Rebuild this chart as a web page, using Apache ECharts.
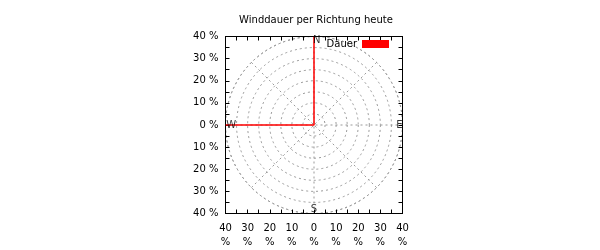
<!DOCTYPE html>
<html><head><meta charset="utf-8">
<script src="https://cdn.jsdelivr.net/npm/echarts@6/dist/echarts.min.js"></script>
<style>html,body{margin:0;padding:0;background:#fff}#c{width:600px;height:250px}</style>
</head><body><div id="c"></div>
<script>
var title = 'Winddauer per Richtung heute';
var seriesName = 'Dauer';
var directions = ['N','NO','O','SO','S','SW','W','NW'];
var angles = [0,45,90,135,180,225,270,315];
var dauer = [40,0,0,0,0,0,40,0];
var ticks = [-40,-30,-20,-10,0,10,20,30,40];
var dirLabels = [['N',1.2,38.3],['E',38.6,0],['S',0,-38.3],['W',-37.4,0]];

var polyData = [];
for (var i=0;i<dauer.length;i++) polyData.push([dauer[i], angles[i]]);
polyData.push([dauer[0], 360]);

var font = 'DejaVu Sans';
var chart = echarts.init(document.getElementById('c'), null, {renderer:'canvas'});
var L=225.5, T=36.5, W=177, H=177;
var cx=L+W/2, cy=T+H/2;
var dashed = {color:'#999999', width:1, type:[2,3]};
function mkX(pos, labels){
  return {type:'value',min:-40,max:40,interval:10,position:pos,
    axisLine:{onZero:false,lineStyle:{color:'#000'}},
    axisTick:{inside:true,length:4,lineStyle:{color:'#000'}},
    minorTick:{show:true,splitNumber:2,length:4,lineStyle:{color:'#000'}},
    splitLine:{show:false},
    axisLabel:labels};
}
chart.setOption({
  animation:false,
  title:{text:title,left:311,textAlign:'center',top:10,textStyle:{fontFamily:font,fontSize:10,fontWeight:'normal',color:'#000'}},
  legend:{data:[{name:seriesName,icon:'rect'}],right:211,top:39,padding:0,itemWidth:27,itemHeight:8,align:'right',itemGap:4,
    textStyle:{fontFamily:font,fontSize:10,color:'#000'}},
  grid:{left:L,top:T,width:W,height:H},
  polar:{center:[cx,cy],radius:W/2},
  radiusAxis:{type:'value',min:0,max:40,interval:5,axisLine:{show:false},axisTick:{show:false},axisLabel:{show:false},
    splitLine:{show:true,lineStyle:dashed}},
  angleAxis:{type:'value',min:0,max:360,interval:45,startAngle:90,clockwise:true,axisLine:{show:true,lineStyle:dashed},
    axisTick:{show:false},axisLabel:{show:false},splitLine:{show:true,lineStyle:dashed}},
  xAxis:[
    mkX('bottom',{fontFamily:font,fontSize:10,color:'#000',margin:8,lineHeight:14,formatter:function(v){return Math.abs(v)+'\n%';}}),
    mkX('top',{show:false})
  ],
  yAxis:[
    mkX('left',{fontFamily:font,fontSize:10,color:'#000',margin:7,formatter:function(v){return Math.abs(v)+' %';}}),
    mkX('right',{show:false})
  ],
  series:[
    {name:seriesName,type:'line',coordinateSystem:'polar',data:polyData,symbol:'none',
     lineStyle:{color:'#ff0000',width:1.5},itemStyle:{color:'#ff0000'},z:5},
    {type:'scatter',xAxisIndex:0,yAxisIndex:0,symbolSize:0,silent:true,z:6,
     data:dirLabels.map(function(d){return {value:[d[1],d[2]],name:d[0]};}),
     label:{show:true,position:'inside',formatter:'{b}',fontFamily:font,fontSize:10,color:'#000'}}
  ]
});
</script></body></html>
